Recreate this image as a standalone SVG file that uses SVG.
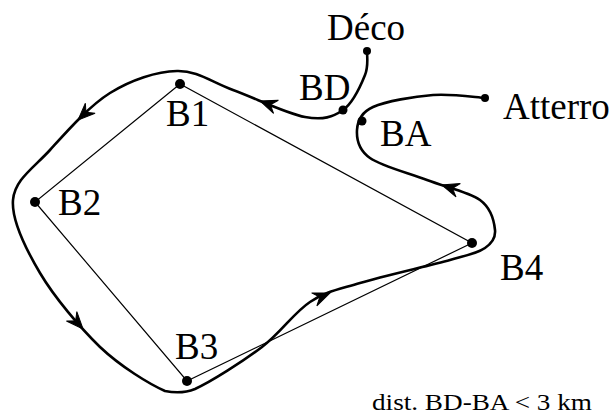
<svg xmlns="http://www.w3.org/2000/svg" xmlns:xlink="http://www.w3.org/1999/xlink" width="616" height="414" viewBox="0 0 616 414">
<style>
text{font-family:"Liberation Serif","Times New Roman",serif;fill:#000}
.lbl{font-size:37px}
.note{font-size:24px}
.thin{fill:none;stroke:#000;stroke-width:1.2}
.route{fill:none;stroke:#000;stroke-width:2.6;stroke-linecap:round;stroke-linejoin:round}
.dot{fill:#000}
</style>
<defs>
<path id="ah" d="M0,0 L-17,-7 L-11,0 L-17,7 Z" fill="#000" stroke="#000" stroke-width="1" stroke-linejoin="miter"/>
</defs>
<rect width="616" height="414" fill="#fff"/>
<g id="connectors">
<path class="thin" d="M180,84 L35,202 L187,381 L472,243 Z"/>
<path class="route" d="M367,50 C366.7,54.2 369,65 365,75 C361,85 353,103 343,110 C333,117 323.3,120.3 305,117 C286.7,113.7 254.3,97.7 233,90 C211.7,82.3 197.5,70.5 177,71 C156.5,71.5 131.2,79.8 110,93 C88.8,106.2 66.2,132.2 50,150 C33.8,167.8 14.7,179.5 13,200 C11.3,220.5 25.5,248.5 40,273 C54.5,297.5 80,327.5 100,347 C120.8,366.7 149.2,384 165,391 C175,393 185,393 195,389 C211.2,381.7 242.8,361.5 262,347 C281.2,332.5 293.7,312.7 310,302 C326.3,291.3 336.7,290 360,283 C383.3,276 429.2,265.8 450,260 C470.8,254.2 477.5,253 485,248 C492.5,243 495.8,238 495,230 C494.2,222 491.3,208.3 480,200 C468.7,191.7 445.3,187 427,180 C408.7,173 381.7,166.3 370,158 C358.3,149.7 356.5,138.5 357,130 C357.5,121.5 360.3,112.8 373,107 C385.7,101.2 414.3,96.5 433,95 C451.7,93.5 476.3,97.5 485,98"/>
<use xlink:href="#ah" transform="translate(260,101) rotate(200)"/>
<use xlink:href="#ah" transform="translate(78,120) rotate(136)"/>
<use xlink:href="#ah" transform="translate(83,329) rotate(48)"/>
<use xlink:href="#ah" transform="translate(330,293) rotate(-22)"/>
<use xlink:href="#ah" transform="translate(442,185) rotate(198)"/>
</g>
<g id="deco"><circle class="dot" cx="367" cy="51" r="4"/><text class="lbl" x="327" y="40">Déco</text></g>
<g id="bd"><circle class="dot" cx="343" cy="110" r="4.5"/><text class="lbl" x="299" y="100">BD</text></g>
<g id="ba"><circle class="dot" cx="362" cy="121" r="4.5"/><text class="lbl" x="380" y="146">BA</text></g>
<g id="atterro"><circle class="dot" cx="485" cy="98" r="4"/><text class="lbl" x="503" y="119">Atterro</text></g>
<g id="b1"><circle class="dot" cx="180" cy="84" r="5"/><text class="lbl" x="166" y="126">B1</text></g>
<g id="b2"><circle class="dot" cx="35" cy="202" r="5"/><text class="lbl" x="58" y="215">B2</text></g>
<g id="b3"><circle class="dot" cx="187" cy="381" r="5"/><text class="lbl" x="175" y="359">B3</text></g>
<g id="b4"><circle class="dot" cx="472" cy="243" r="5"/><text class="lbl" x="500" y="280">B4</text></g>
<g id="note"><text class="note" x="372" y="410" textLength="220" lengthAdjust="spacingAndGlyphs">dist. BD-BA &lt; 3 km</text></g>
</svg>
